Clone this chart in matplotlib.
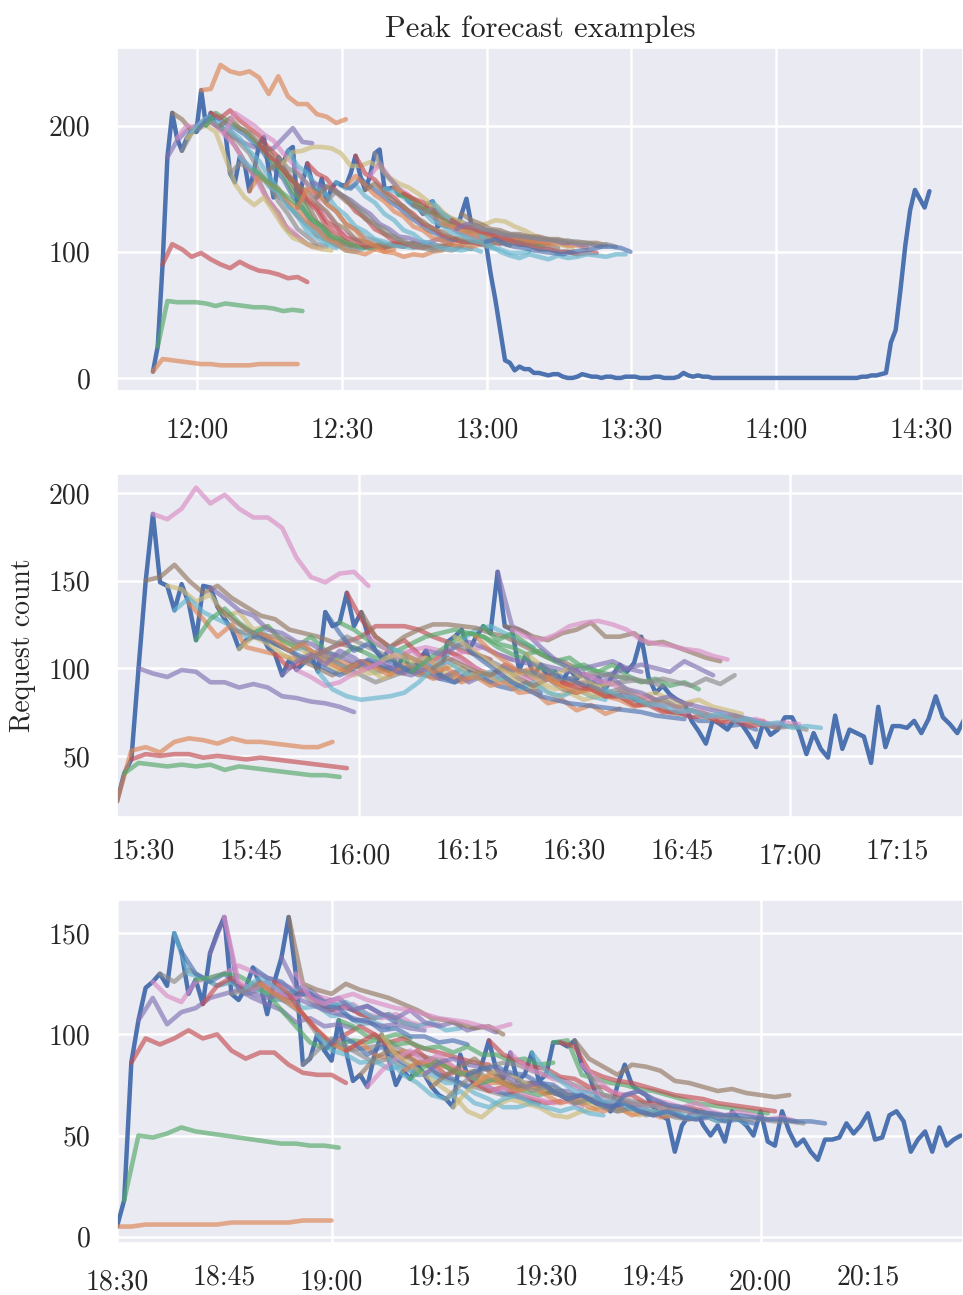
import matplotlib
matplotlib.use("Agg")
import matplotlib.pyplot as plt
import seaborn as sns
from matplotlib.ticker import FixedLocator, FuncFormatter

sns.set_theme(style="darkgrid", palette="deep")
plt.rcParams["font.family"] = ["cmr10", "DejaVu Serif"]
plt.rcParams["axes.unicode_minus"] = False
plt.rcParams["mathtext.fontset"] = "cm"

# Observed request counts: one value per minute, starting at *_start (minute of day).
# Forecasts: issued k minutes after *_start, 16 values 2 minutes apart (30 min horizon).
FC_STEP = 2

# ---- 12:00 peak ----
p1_start = 710.8
p1_actual = [
    5, 25, 90, 175, 210, 190, 180, 190, 195, 195,
    228, 200, 210, 200, 200, 195, 162, 155, 175, 170,
    148, 165, 185, 191, 165, 143, 175, 170, 180, 183,
    135, 155, 170, 155, 143, 158, 140, 150, 155, 153,
    152, 162, 176, 160, 149, 160, 178, 181, 150, 150,
    151, 145, 146, 140, 137, 135, 130, 138, 140, 120,
    122, 120, 125, 118, 130, 142, 122, 118, 112, 108,
    83, 62, 38, 14, 12, 6, 9, 7, 7, 4,
    4, 3, 2, 3, 3, 1, 0, 0, 1, 3,
    2, 1, 1, 0, 1, 1, 0, 0, 1, 1,
    1, 0, 0, 0, 1, 1, 0, 0, 0, 1,
    4, 2, 1, 2, 1, 1, 0, 0, 0, 0,
    0, 0, 0, 0, 0, 0, 0, 0, 0, 0,
    0, 0, 0, 0, 0, 0, 0, 0, 0, 0,
    0, 0, 0, 0, 0, 0, 0, 1, 1, 2,
    2, 3, 4, 28, 38, 70, 105, 133, 149, 142,
    135, 148,
]
p1_fc_ids = [0, 1, 2, 3, 4, 5, 6, 7, 8, 9, 10, 11, 12, 14, 15, 16, 18, 20,
             21, 22, 24, 26, 27, 28, 30, 32, 33, 34, 36, 38, 39, 40, 42, 44,
             45, 46, 48, 50, 51, 52, 54, 56, 57, 58, 60, 62, 63, 64, 66, 68, 69]
p1_fc = [
    [5, 15, 14, 13, 12, 11, 11, 10, 10, 10, 10, 11, 11, 11, 11, 11],
    [25, 61, 60, 60, 60, 59, 57, 59, 58, 57, 56, 56, 55, 53, 54, 53],
    [90, 106, 102, 96, 99, 94, 90, 87, 92, 88, 85, 84, 82, 79, 80, 76],
    [175, 188, 196, 200, 205, 200, 195, 190, 186, 183, 181, 182, 190, 198, 187, 186],
    [210, 205, 196, 200, 203, 198, 190, 178, 165, 156, 140, 131, 117, 112, 106, 104],
    [190, 200, 198, 205, 200, 192, 184, 170, 160, 146, 136, 122, 116, 108, 104, 103],
    [180, 194, 200, 204, 198, 196, 186, 178, 164, 154, 140, 130, 118, 112, 106, 104],
    [190, 197, 200, 195, 175, 154, 143, 137, 143, 132, 120, 111, 108, 104, 102, 101],
    [195, 203, 208, 200, 196, 190, 180, 172, 160, 150, 136, 128, 116, 111, 106, 103],
    [195, 204, 207, 202, 198, 193, 186, 178, 166, 158, 144, 135, 122, 115, 108, 105],
    [228, 229, 248, 243, 241, 243, 238, 225, 239, 223, 217, 217, 209, 207, 202, 205],
    [200, 210, 205, 200, 196, 188, 180, 170, 162, 147, 140, 126, 120, 110, 108, 104],
    [210, 206, 212, 204, 198, 192, 182, 175, 160, 153, 140, 133, 120, 114, 108, 105],
    [200, 206, 198, 194, 186, 180, 168, 160, 146, 138, 124, 117, 109, 106, 104, 103],
    [195, 210, 205, 200, 193, 188, 178, 170, 158, 148, 134, 126, 116, 112, 108, 107],
    [162, 170, 166, 160, 154, 144, 138, 128, 122, 113, 110, 105, 103, 102, 104, 102],
    [175, 168, 162, 152, 147, 136, 130, 120, 115, 108, 106, 101, 100, 103, 104, 103],
    [148, 160, 154, 150, 140, 134, 124, 118, 110, 107, 101, 100, 98, 102, 100, 102],
    [165, 158, 152, 146, 140, 134, 125, 120, 112, 110, 106, 104, 103, 106, 104, 106],
    [185, 176, 170, 160, 152, 142, 135, 124, 119, 111, 109, 104, 105, 103, 106, 104],
    [165, 170, 162, 152, 148, 138, 132, 122, 118, 110, 108, 105, 104, 107, 105, 107],
    [175, 166, 162, 154, 148, 138, 132, 122, 118, 111, 109, 106, 105, 104, 107, 105],
    [170, 179, 180, 183, 183, 182, 178, 168, 168, 171, 167, 159, 154, 151, 146, 140],
    [180, 168, 162, 152, 145, 135, 129, 120, 116, 110, 108, 105, 104, 103, 106, 104],
    [135, 150, 146, 138, 132, 122, 117, 108, 105, 100, 99, 96, 98, 97, 100, 101],
    [170, 162, 158, 148, 142, 132, 127, 118, 114, 108, 107, 104, 103, 106, 104, 106],
    [155, 152, 150, 145, 141, 135, 130, 122, 118, 112, 111, 108, 107, 110, 108, 110],
    [143, 152, 147, 140, 135, 126, 122, 114, 112, 107, 106, 104, 103, 105, 105, 104],
    [140, 148, 143, 136, 130, 122, 118, 111, 109, 104, 103, 101, 102, 101, 104, 102],
    [155, 150, 153, 144, 139, 130, 125, 117, 114, 108, 106, 103, 102, 101, 103, 100],
    [153, 150, 158, 152, 146, 140, 135, 128, 123, 117, 114, 110, 109, 107, 107, 105],
    [152, 160, 153, 145, 140, 132, 128, 120, 117, 111, 109, 106, 106, 104, 106, 104],
    [176, 162, 157, 148, 143, 135, 130, 122, 119, 113, 111, 108, 108, 106, 108, 106],
    [149, 154, 147, 140, 136, 128, 124, 118, 116, 111, 110, 108, 108, 106, 108, 105],
    [160, 170, 159, 150, 145, 136, 132, 124, 121, 116, 114, 111, 111, 109, 111, 108],
    [178, 162, 154, 145, 140, 132, 128, 121, 119, 114, 112, 109, 109, 107, 107, 106],
    [150, 148, 143, 136, 132, 124, 121, 115, 113, 109, 107, 103, 102, 99, 99, 100],
    [151, 146, 142, 136, 132, 125, 123, 117, 115, 112, 111, 108, 108, 106, 106, 104],
    [145, 143, 139, 132, 130, 124, 122, 117, 116, 113, 112, 109, 109, 106, 106, 104],
    [146, 142, 139, 133, 130, 124, 122, 117, 116, 113, 113, 110, 110, 108, 108, 106],
    [137, 134, 131, 127, 125, 120, 119, 115, 114, 112, 111, 108, 108, 105, 105, 103],
    [130, 135, 131, 126, 124, 119, 118, 115, 114, 112, 112, 110, 110, 108, 109, 107],
    [138, 136, 128, 125, 121, 120, 122, 125, 124, 120, 117, 113, 110, 108, 105, 103],
    [140, 130, 125, 120, 118, 113, 112, 110, 109, 106, 105, 102, 102, 100, 100, 98],
    [122, 120, 118, 115, 115, 112, 112, 110, 111, 108, 108, 106, 107, 105, 105, 103],
    [125, 120, 119, 116, 114, 110, 109, 106, 105, 102, 102, 100, 100, 98, 99, 99],
    [118, 122, 121, 117, 116, 113, 113, 112, 111, 110, 109, 107, 107, 105, 106, 104],
    [130, 125, 122, 118, 117, 114, 114, 112, 112, 110, 110, 108, 108, 107, 107, 105],
    [122, 118, 117, 115, 114, 112, 112, 110, 110, 108, 109, 107, 107, 105, 106, 104],
    [112, 105, 100, 97, 95, 98, 96, 94, 97, 95, 96, 98, 97, 96, 98, 98],
    [108, 110, 106, 104, 103, 101, 100, 99, 98, 100, 101, 102, 104, 104, 103, 100],
]

# ---- 15:30 peak ----
p2_start = 926.3
p2_actual = [
    24, 40, 48, 100, 150, 188, 149, 147, 133, 148,
    137, 116, 147, 146, 135, 128, 122, 111, 116, 118,
    120, 112, 108, 96, 105, 99, 103, 107, 98, 132,
    124, 126, 143, 124, 132, 118, 110, 105, 112, 100,
    108, 98, 104, 110, 100, 95, 115, 118, 122, 110,
    118, 124, 120, 155, 124, 122, 99, 108, 96, 102,
    95, 98, 92, 100, 94, 97, 90, 95, 88, 96,
    102, 98, 103, 118, 95, 86, 90, 85, 82, 80,
    70, 64, 57, 71, 68, 65, 71, 68, 62, 55,
    69, 62, 65, 72, 72, 64, 51, 63, 54, 49,
    73, 54, 65, 63, 61, 46, 78, 55, 67, 67,
    66, 70, 63, 71, 84, 72, 68, 63, 71,
]
p2_fc_ids = [0, 1, 2, 3, 4, 5, 7, 8, 10, 11, 13, 14, 16, 17, 19, 20, 22, 23,
             25, 26, 28, 29, 31, 32, 34, 35, 37, 38, 40, 41, 43, 44, 46, 47,
             49, 50, 51, 53, 54, 55, 56, 57, 59, 60, 62, 63, 65, 66, 68]
p2_fc = [
    [24, 53, 55, 52, 58, 60, 59, 57, 60, 58, 58, 57, 56, 55, 55, 58],
    [40, 46, 45, 44, 45, 44, 45, 42, 44, 43, 42, 41, 40, 39, 39, 38],
    [48, 51, 50, 51, 51, 49, 50, 49, 48, 49, 48, 47, 46, 45, 44, 43],
    [100, 97, 95, 99, 98, 92, 92, 89, 91, 89, 84, 83, 81, 80, 78, 75],
    [150, 152, 159, 150, 143, 147, 140, 135, 130, 128, 122, 120, 118, 115, 113, 110],
    [188, 185, 191, 203, 194, 199, 191, 186, 186, 180, 163, 152, 149, 154, 155, 147],
    [147, 145, 138, 142, 130, 132, 122, 124, 115, 112, 108, 106, 100, 102, 97, 98],
    [133, 140, 132, 128, 124, 118, 122, 114, 110, 112, 106, 104, 100, 102, 98, 100],
    [137, 128, 118, 125, 112, 110, 108, 106, 104, 110, 105, 103, 100, 101, 98, 97],
    [116, 128, 134, 126, 120, 124, 116, 112, 118, 110, 106, 112, 108, 104, 106, 102],
    [146, 140, 133, 130, 122, 120, 115, 114, 109, 107, 103, 104, 100, 101, 98, 99],
    [135, 128, 122, 118, 114, 110, 104, 100, 96, 100, 104, 102, 98, 100, 96, 98],
    [122, 120, 119, 118, 116, 112, 108, 105, 100, 96, 92, 95, 98, 100, 102, 100],
    [111, 118, 114, 108, 104, 110, 102, 98, 96, 100, 94, 98, 102, 96, 99, 95],
    [118, 116, 112, 108, 104, 100, 96, 100, 105, 102, 98, 100, 96, 94, 92, 95],
    [120, 116, 110, 114, 106, 102, 98, 104, 100, 96, 102, 98, 94, 96, 92, 95],
    [108, 100, 104, 108, 112, 115, 118, 124, 124, 124, 122, 118, 115, 110, 108, 105],
    [96, 104, 108, 102, 110, 106, 100, 104, 98, 96, 100, 94, 98, 92, 96, 94],
    [99, 95, 90, 92, 97, 100, 104, 108, 110, 112, 110, 108, 110, 112, 108, 105],
    [103, 108, 112, 118, 114, 110, 106, 100, 104, 98, 94, 100, 96, 92, 95, 90],
    [98, 88, 84, 82, 83, 84, 86, 92, 100, 108, 116, 122, 124, 120, 115, 112],
    [132, 120, 110, 114, 106, 102, 98, 104, 96, 92, 98, 94, 90, 88, 92, 86],
    [126, 122, 116, 112, 110, 114, 118, 120, 122, 120, 118, 112, 108, 105, 100, 98],
    [143, 128, 118, 112, 116, 108, 104, 110, 106, 100, 96, 102, 98, 94, 96, 92],
    [132, 118, 112, 118, 122, 125, 125, 124, 123, 120, 118, 114, 110, 106, 104, 100],
    [118, 112, 106, 110, 104, 100, 106, 102, 98, 96, 100, 94, 92, 95, 90, 92],
    [105, 108, 104, 106, 100, 102, 96, 98, 93, 94, 88, 90, 84, 86, 82, 84],
    [112, 108, 104, 100, 104, 98, 94, 98, 92, 88, 92, 86, 84, 88, 84, 82],
    [108, 104, 98, 100, 94, 95, 90, 92, 86, 87, 80, 82, 76, 79, 74, 77],
    [98, 104, 110, 116, 120, 118, 114, 112, 108, 110, 104, 100, 102, 98, 96, 94],
    [110, 108, 112, 115, 112, 108, 105, 103, 102, 100, 98, 100, 102, 104, 100, 98],
    [100, 106, 102, 98, 96, 100, 94, 90, 94, 88, 86, 90, 84, 86, 82, 84],
    [115, 112, 108, 104, 100, 98, 96, 94, 93, 92, 91, 90, 92, 93, 92, 90],
    [118, 112, 106, 100, 96, 98, 92, 88, 90, 86, 84, 86, 82, 80, 82, 79],
    [110, 104, 98, 92, 88, 84, 82, 80, 79, 78, 77, 76, 75, 73, 72, 71],
    [118, 110, 104, 98, 100, 94, 90, 92, 88, 86, 84, 82, 84, 80, 78, 80],
    [124, 116, 120, 114, 108, 104, 106, 100, 98, 102, 96, 92, 94, 90, 92, 88],
    [155, 124, 120, 112, 105, 100, 96, 95, 97, 100, 102, 100, 98, 104, 100, 96],
    [124, 122, 118, 116, 120, 122, 126, 118, 118, 120, 114, 115, 112, 109, 106, 104],
    [122, 118, 116, 119, 124, 126, 127, 125, 122, 116, 114, 113, 111, 110, 107, 105],
    [99, 97, 95, 93, 95, 97, 96, 95, 94, 92, 94, 92, 90, 94, 91, 96],
    [108, 102, 96, 100, 94, 90, 92, 88, 84, 86, 82, 80, 82, 78, 76, 74],
    [102, 96, 94, 90, 88, 84, 85, 80, 79, 75, 74, 70, 70, 67, 68, 65],
    [95, 90, 86, 88, 84, 82, 78, 80, 76, 74, 76, 72, 70, 72, 69, 70],
    [92, 89, 88, 84, 84, 79, 79, 75, 75, 72, 73, 69, 70, 67, 68, 66],
    [100, 96, 92, 94, 88, 86, 82, 84, 80, 78, 76, 74, 72, 70, 68, 67],
    [97, 93, 91, 85, 84, 79, 79, 75, 76, 72, 73, 70, 71, 68, 69, 68],
    [90, 86, 88, 84, 80, 82, 78, 76, 74, 72, 73, 70, 68, 66, 67, 65],
    [88, 84, 83, 79, 79, 75, 76, 72, 74, 70, 71, 68, 69, 66, 67, 66],
]

# ---- 18:30 peak ----
p3_start = 1110.0
p3_actual = [
    5, 18, 86, 107, 123, 126, 130, 124, 150, 141,
    120, 127, 115, 140, 150, 158, 120, 117, 123, 133,
    125, 110, 126, 138, 158, 130, 85, 88, 100, 92,
    87, 107, 92, 77, 80, 74, 90, 100, 88, 75,
    82, 78, 85, 80, 74, 70, 68, 64, 90, 80,
    75, 85, 97, 83, 78, 91, 77, 80, 91, 77,
    80, 96, 96, 94, 97, 85, 80, 70, 65, 62,
    75, 85, 75, 72, 70, 64, 60, 58, 42, 55,
    60, 62, 55, 50, 55, 47, 62, 58, 55, 50,
    62, 47, 45, 62, 52, 45, 48, 42, 38, 48,
    48, 49, 56, 51, 55, 61, 48, 49, 60, 62,
    57, 42, 48, 52, 42, 54, 45, 48, 50,
]
p3_fc_ids = [0, 1, 2, 3, 5, 6, 8, 9, 11, 12, 13, 15, 16, 18, 19, 20, 22, 23,
             24, 25, 26, 28, 29, 31, 32, 34, 35, 37, 38, 40, 41, 43, 44, 46,
             47, 49, 50, 52, 53, 55, 56, 58, 59, 61, 62, 64, 65, 66, 69]
p3_fc = [
    [5, 5, 6, 6, 6, 6, 6, 6, 7, 7, 7, 7, 7, 8, 8, 8],
    [18, 50, 49, 51, 54, 52, 51, 50, 49, 48, 47, 46, 46, 45, 45, 44],
    [86, 98, 95, 98, 102, 98, 100, 92, 88, 91, 91, 85, 81, 80, 80, 76],
    [107, 118, 105, 111, 113, 118, 120, 122, 118, 115, 112, 106, 108, 104, 105, 103],
    [126, 119, 116, 126, 128, 130, 134, 131, 128, 125, 122, 120, 118, 116, 112, 110],
    [130, 126, 132, 128, 124, 126, 120, 122, 118, 116, 120, 114, 112, 115, 110, 108],
    [150, 130, 128, 124, 126, 121, 122, 117, 118, 113, 114, 109, 110, 105, 106, 103],
    [141, 130, 126, 130, 124, 122, 126, 120, 118, 122, 116, 114, 112, 114, 110, 106],
    [127, 128, 130, 129, 125, 120, 112, 104, 96, 93, 95, 97, 96, 98, 100, 98],
    [115, 124, 128, 122, 126, 120, 118, 122, 116, 112, 114, 110, 108, 110, 106, 104],
    [140, 158, 122, 120, 118, 120, 118, 115, 112, 110, 108, 106, 104, 105, 103, 102],
    [158, 126, 122, 126, 120, 118, 122, 116, 112, 115, 110, 108, 110, 106, 104, 105],
    [120, 122, 125, 120, 115, 110, 100, 95, 92, 93, 94, 96, 92, 90, 88, 87],
    [123, 128, 124, 120, 124, 118, 114, 116, 112, 108, 110, 106, 104, 106, 102, 103],
    [133, 128, 126, 120, 120, 114, 113, 107, 107, 102, 103, 99, 99, 96, 97, 95],
    [125, 120, 116, 110, 102, 96, 92, 96, 90, 88, 92, 86, 84, 86, 82, 80],
    [126, 120, 110, 102, 95, 100, 104, 100, 96, 98, 94, 92, 90, 88, 86, 85],
    [138, 124, 120, 116, 118, 112, 114, 110, 108, 112, 106, 104, 106, 102, 104, 101],
    [158, 125, 122, 120, 125, 122, 120, 118, 115, 112, 108, 107, 105, 103, 104, 100],
    [130, 118, 115, 118, 120, 117, 115, 113, 112, 110, 108, 107, 106, 104, 103, 105],
    [85, 92, 98, 94, 90, 86, 88, 84, 80, 82, 78, 76, 74, 72, 70, 71],
    [100, 92, 90, 86, 87, 83, 84, 80, 80, 76, 76, 71, 68, 64, 64, 66],
    [92, 100, 96, 90, 94, 88, 84, 86, 80, 78, 74, 76, 72, 70, 68, 66],
    [107, 104, 99, 98, 95, 96, 93, 94, 91, 94, 90, 90, 87, 88, 85, 86],
    [92, 96, 100, 94, 88, 92, 86, 80, 82, 76, 72, 74, 70, 68, 66, 67],
    [80, 88, 92, 90, 86, 88, 84, 80, 82, 78, 76, 74, 76, 72, 70, 69],
    [74, 82, 88, 92, 86, 90, 84, 80, 76, 72, 74, 70, 68, 66, 67, 64],
    [100, 90, 85, 80, 75, 70, 62, 59, 65, 68, 66, 64, 60, 59, 62, 63],
    [88, 80, 76, 70, 68, 72, 66, 64, 68, 70, 66, 64, 62, 64, 61, 60],
    [82, 86, 85, 84, 81, 80, 76, 76, 73, 74, 71, 72, 68, 69, 66, 67],
    [78, 84, 86, 82, 80, 76, 78, 74, 72, 70, 72, 68, 66, 67, 64, 63],
    [80, 86, 88, 85, 84, 80, 80, 76, 76, 72, 72, 68, 68, 65, 66, 64],
    [74, 80, 84, 88, 82, 78, 74, 76, 72, 70, 66, 68, 64, 62, 63, 61],
    [68, 75, 80, 84, 86, 85, 82, 80, 78, 75, 72, 70, 69, 67, 66, 65],
    [64, 72, 78, 82, 80, 76, 72, 74, 70, 68, 64, 66, 62, 60, 62, 60],
    [80, 83, 84, 81, 80, 76, 75, 70, 70, 66, 66, 63, 64, 61, 62, 60],
    [75, 80, 76, 72, 74, 70, 66, 68, 64, 62, 64, 60, 62, 59, 60, 58],
    [97, 90, 87, 84, 83, 79, 78, 74, 74, 70, 70, 66, 66, 63, 64, 62],
    [83, 78, 74, 76, 72, 68, 70, 66, 64, 66, 62, 60, 62, 59, 58, 59],
    [91, 84, 81, 78, 76, 72, 71, 67, 67, 64, 65, 62, 63, 60, 61, 59],
    [77, 72, 74, 70, 66, 68, 64, 62, 64, 60, 62, 59, 58, 60, 57, 58],
    [91, 82, 77, 72, 71, 67, 67, 63, 63, 61, 62, 59, 60, 57, 59, 56],
    [77, 72, 68, 70, 66, 64, 66, 62, 60, 62, 59, 58, 60, 57, 58, 56],
    [96, 97, 80, 78, 76, 75, 73, 72, 70, 68, 66, 65, 64, 63, 62, 61],
    [96, 94, 82, 79, 77, 76, 74, 72, 70, 69, 68, 66, 65, 64, 63, 62],
    [97, 88, 84, 80, 85, 84, 82, 77, 76, 74, 72, 73, 71, 70, 69, 70],
    [85, 78, 72, 70, 72, 68, 66, 64, 66, 62, 60, 62, 60, 58, 59, 57],
    [80, 70, 68, 66, 65, 64, 63, 62, 61, 60, 59, 58, 58, 57, 57, 56],
    [62, 70, 72, 68, 65, 64, 62, 61, 60, 60, 59, 58, 58, 57, 57, 56],
]

pal = sns.color_palette("deep")


def hhmm(x, pos=None):
    m = int(round(x))
    return f"{m // 60:02d}:{m % 60:02d}"


def draw_peak(ax, start, actual, fc_ids, fc):
    t = [start + i for i in range(len(actual))]
    ax.plot(t, actual, color=pal[0], lw=3.2)
    for k, vals in zip(fc_ids, fc):
        ft = [start + k + FC_STEP * j for j in range(len(vals))]
        ax.plot(ft, vals, color=pal[(k + 1) % 10], lw=3.3, alpha=0.65)


fig, axes = plt.subplots(3, 1, figsize=(9.63, 12.95), dpi=100)
fig.subplots_adjust(left=0.1215, right=1.0, top=0.9627, bottom=0.0402, hspace=0.242)

draw_peak(axes[0], p1_start, p1_actual, p1_fc_ids, p1_fc)
draw_peak(axes[1], p2_start, p2_actual, p2_fc_ids, p2_fc)
draw_peak(axes[2], p3_start, p3_actual, p3_fc_ids, p3_fc)

settings = [
    # xlim, ylim, yticks, hour ticks, quarter ticks
    ((703.35, 878.76), (-10.5, 261.2), [0, 100, 200],
     [720, 750, 780, 810, 840, 870], []),
    ((926.3, 1044.1), (15.1, 210.7), [50, 100, 150, 200],
     [960, 1020], [930, 945, 975, 990, 1005, 1035]),
    ((1110.0, 1228.3), (-3.1, 166.4), [0, 50, 100, 150],
     [1110, 1140, 1200], [1125, 1155, 1170, 1185, 1215]),
]
for ax, (xl, yl, yt, major, minor) in zip(axes, settings):
    ax.set_xlim(xl)
    ax.set_ylim(yl)
    ax.set_yticks(yt)
    ax.xaxis.set_major_locator(FixedLocator(major))
    ax.xaxis.set_minor_locator(FixedLocator(minor))
    ax.xaxis.set_major_formatter(FuncFormatter(hhmm))
    ax.xaxis.set_minor_formatter(FuncFormatter(hhmm))
    ax.tick_params(axis="x", which="major", pad=19, labelsize=20, length=0)
    ax.tick_params(axis="x", which="minor", pad=15, labelsize=20, length=0)
    ax.tick_params(axis="y", pad=19, labelsize=20, length=0)
    ax.grid(True, which="major", color="white", lw=1.8)

axes[0].set_title("Peak forecast examples", fontsize=22, pad=8)
axes[1].set_ylabel("Request count", fontsize=20, labelpad=9)

fig.savefig("out.png", dpi=100)
